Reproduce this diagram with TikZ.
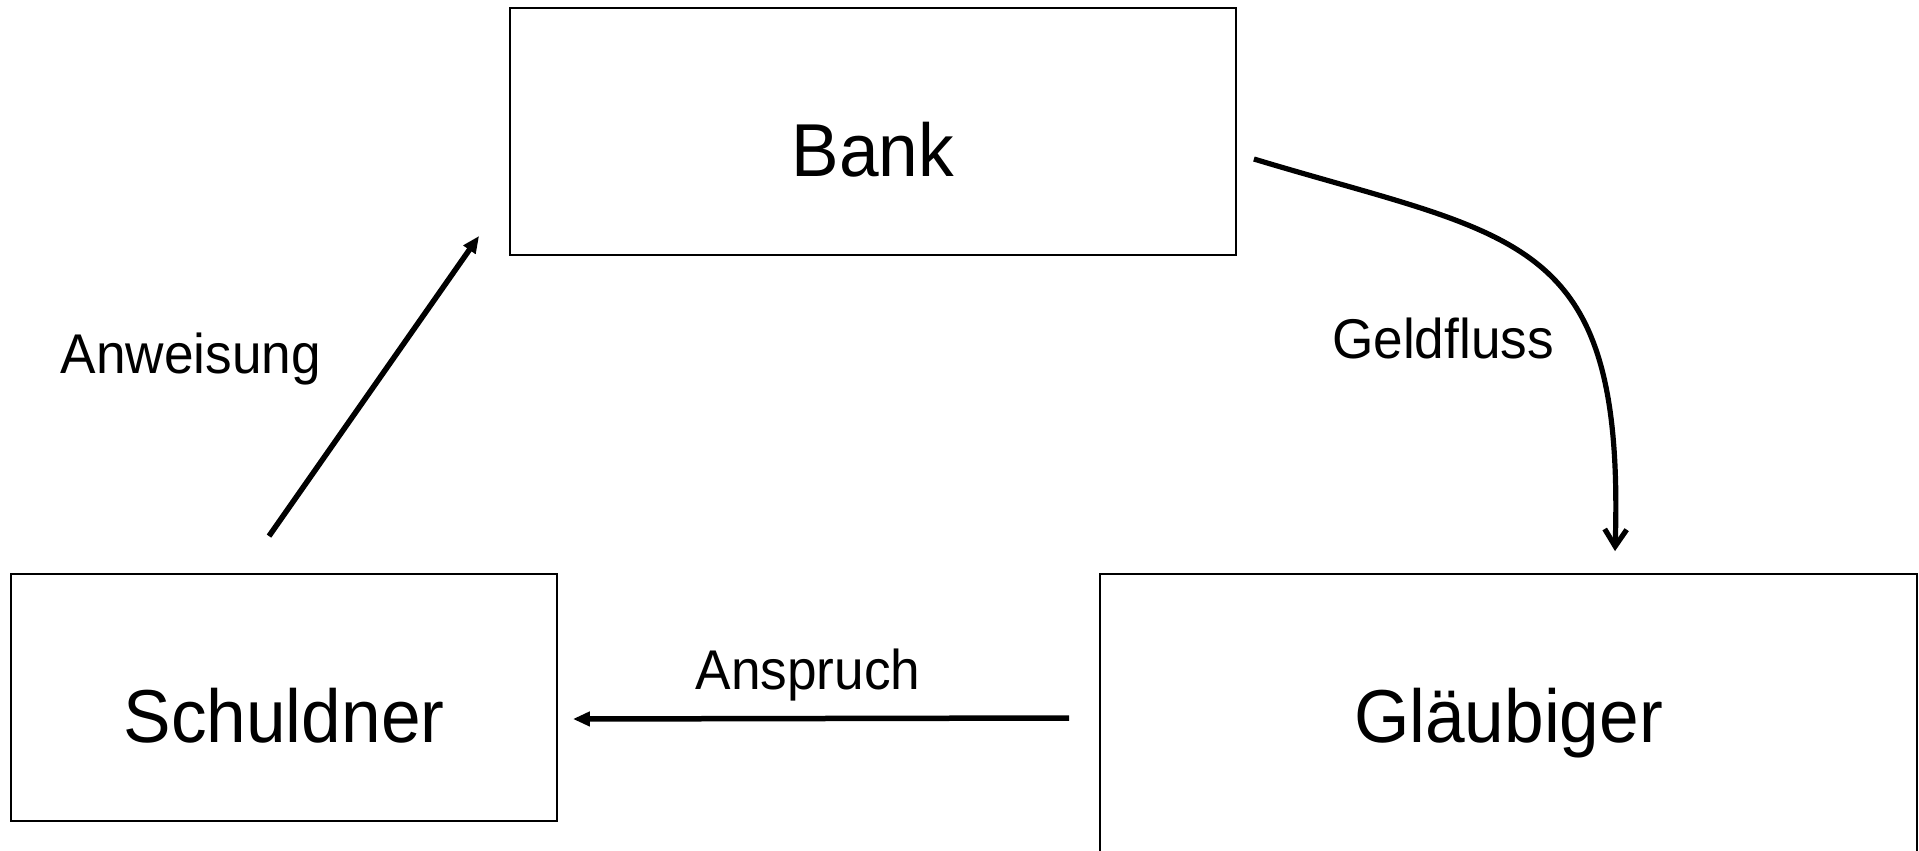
\documentclass[tikz,border=0pt]{standalone}
\usepackage{fontspec}
\setmainfont{Liberation Sans}
\newfontfamily\diagfont[FakeStretch=0.95]{Liberation Sans}
\usetikzlibrary{arrows.meta,calc}

\begin{document}
\begin{tikzpicture}[
  x=1pt, y=-1pt,
  party/.style={draw, line width=1.8pt, inner sep=0pt,
    font=\diagfont\fontsize{75pt}{90pt}\selectfont,
    text height=168pt, text depth=79pt, anchor=base},
  flowlabel/.style={inner sep=0pt, anchor=base,
    font=\diagfont\fontsize{56pt}{67pt}\selectfont},
  order/.style={line width=5.5pt, -{Triangle[length=17pt,width=14pt]}},
  money/.style={line width=5.2pt, -{Straight Barb[length=17pt,width=22pt]}}
]
  \useasboundingbox (0,0) rectangle (1919,851);

  % the three parties
  \node[party, minimum width=726pt] (bank) at (873,176) {Bank};
  \node[party, minimum width=546pt] (schuldner) at (284,742) {Schuldner};
  \node[party, minimum width=817pt, text depth=150pt] (glaeubiger) at (1508.5,742) {Gläubiger};

  % connector end points
  \coordinate (anwA) at ($(schuldner.north)+(-15,-37)$);
  \coordinate (anwB) at ($(bank.south west)+(-30,-20)$);
  \coordinate (ansA) at ($(glaeubiger.base west)+(-30,-24)$);
  \coordinate (ansB) at ($(schuldner.base east)+(15,-23)$);
  \coordinate (geldA) at ($(bank.base east)+(17,-17)$);
  \coordinate (geldB) at ($(glaeubiger.north)+(106.5,-22)$);

  % connectors
  \draw[order] (anwA) -- (anwB);
  \draw[order] (ansA) -- (ansB);
  \draw[money] (geldA) .. controls +(265,80) and +(10,-320) .. (geldB);

  % labels
  \node[flowlabel] (lblAnw) at (191,373) {Anweisung};
  \node[flowlabel] (lblGeld) at (1443,358) {Geldfluss};
  \node[flowlabel] (lblAns) at (808,689) {Anspruch};
\end{tikzpicture}
\end{document}
